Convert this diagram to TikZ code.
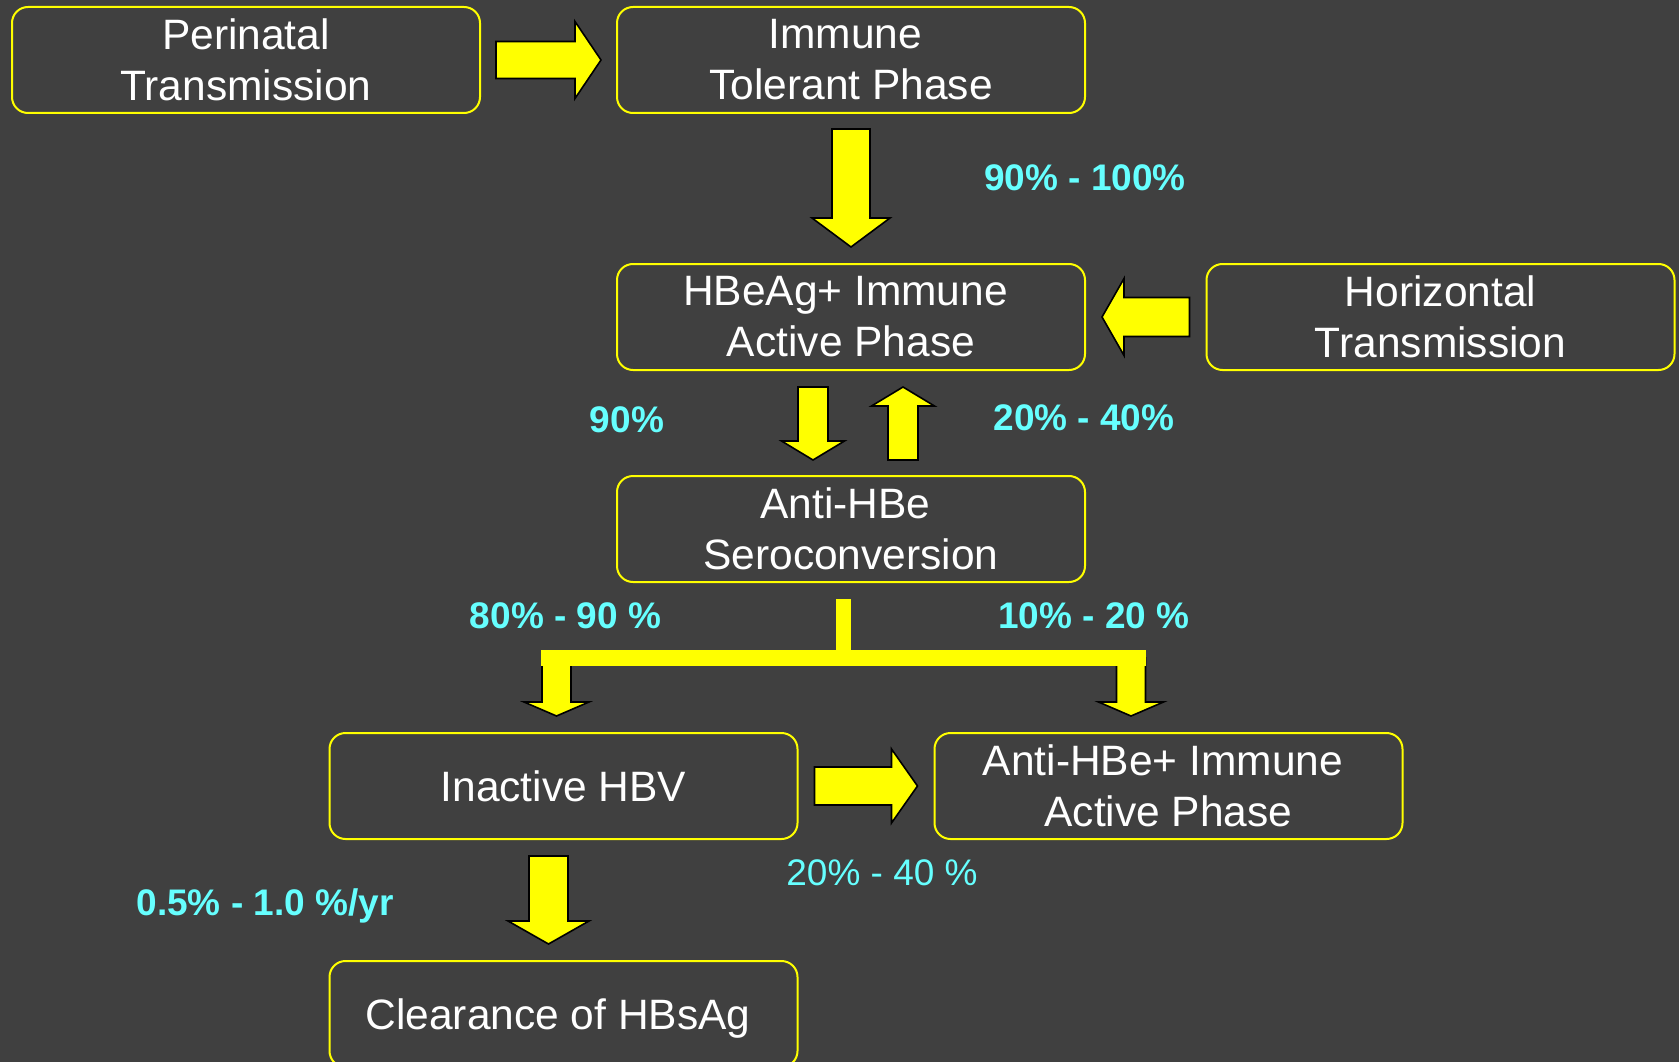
\documentclass[tikz,border=0pt]{standalone}
\usepackage{fontspec}
\setmainfont{Liberation Sans}
\usepackage{tikz}
\usetikzlibrary{calc}
\definecolor{bg}{HTML}{404040}
\definecolor{hbyellow}{HTML}{FFFF00}
\definecolor{pct}{HTML}{66FFFF}
\newcommand{\boxfont}{\fontsize{42.5}{51}\selectfont}
\newcommand{\pctfont}{\fontsize{37}{44}\selectfont\bfseries}
% block arrow: #1 tail, #2 tip, #3 half shaft, #4 half head, #5 head length
\newcommand{\fatarrow}[5]{%
  \coordinate (fa-h) at ($(#2)!#5!(#1)$);
  \draw[fat] ($(#1)!#3!90:(#2)$) -- ($(fa-h)!#3!90:(#2)$) -- ($(fa-h)!#4!90:(#2)$) -- (#2)
    -- ($(fa-h)!#4!-90:(#2)$) -- ($(fa-h)!#3!-90:(#2)$) -- ($(#1)!#3!-90:(#2)$) -- cycle;}

\begin{document}
\begin{tikzpicture}[
 x=1pt,y=-1pt,
 phase/.style={draw=hbyellow,line width=2pt,rounded corners=16pt,minimum width=468pt,minimum height=106pt,inner sep=0pt,align=center,text=white,font=\boxfont},
 fat/.style={fill=hbyellow,draw=black,line width=1.6pt,line join=miter},
 bar/.style={draw=hbyellow,line width=16pt,line cap=butt},
 rate/.style={text=pct,font=\pctfont,anchor=base,inner sep=0pt}
]
\useasboundingbox (0,0) rectangle (1679,1062);
\clip (0,0) rectangle (1679,1062);
\fill[bg] (0,0) rectangle (1679,1062);

% phases
\node[phase] (peri) at (246,60) {Perinatal\\Transmission};
\node[phase] (immune) at (851,60) {Immune\hspace*{11pt}\\Tolerant Phase};
\node[phase] (hbeag) at (851,317) {HBeAg+ Immune\hspace*{11pt}\\Active Phase};
\node[phase] (horiz) at (1440.5,317) {Horizontal\\Transmission};
\node[phase] (anti) at (851,529) {Anti-HBe\hspace*{11pt}\\Seroconversion};
\node[phase,text depth=0pt] (inactive) at (563.5,786) {Inactive HBV};
\node[phase] (antip) at (1168.5,786) {Anti-HBe+ Immune\hspace*{11pt}\\Active Phase};
\node[phase,text depth=0pt] (clear) at (563.5,1014) {Clearance of HBsAg\hspace*{11pt}};

% block arrows
\coordinate (a1t) at ($(peri.east)+(15,0)$);     \coordinate (a1h) at ($(immune.west)+(-15,0)$);
\coordinate (a2t) at ($(immune.south)+(0,15)$);  \coordinate (a2h) at ($(hbeag.north)+(0,-16)$);
\coordinate (a3t) at ($(hbeag.south)+(-38,16)$); \coordinate (a3h) at ($(anti.north)+(-38,-15)$);
\coordinate (a4t) at ($(anti.north)+(52,-15)$);  \coordinate (a4h) at ($(hbeag.south)+(52,16)$);
\coordinate (a5t) at ($(horiz.west)+(-16,0)$);   \coordinate (a5h) at ($(hbeag.east)+(16,0)$);
\coordinate (a7t) at ($(inactive.east)+(16,0)$); \coordinate (a7h) at ($(antip.west)+(-16,0)$);
\coordinate (a8t) at ($(inactive.south)+(-15,16)$); \coordinate (a8h) at ($(clear.north)+(-15,-16)$);
\fatarrow{a1t}{a1h}{18.5pt}{38.5pt}{26pt}
\fatarrow{a2t}{a2h}{19pt}{39pt}{29pt}
\fatarrow{a3t}{a3h}{15pt}{31.5pt}{19pt}
\fatarrow{a4t}{a4h}{15pt}{31.5pt}{19pt}
\fatarrow{a5t}{a5h}{19.5pt}{38.5pt}{22pt}
\fatarrow{a7t}{a7h}{19pt}{37pt}{26pt}
\fatarrow{a8t}{a8h}{19.5pt}{40.5pt}{23pt}

% split below seroconversion
\coordinate (sp-top) at ($(anti.south)+(-8,16)$);
\coordinate (sp-mid) at ($(sp-top)+(0,59)$);
\coordinate (sp-lh) at ($(inactive.north)+(-7,-16)$);
\coordinate (sp-rh) at ($(antip.north)+(-37.5,-16)$);
\coordinate (sp-lt) at (sp-lh |- sp-mid);
\coordinate (sp-rt) at (sp-rh |- sp-mid);
\fatarrow{sp-lt}{sp-lh}{14.5pt}{32.5pt}{14pt}
\fatarrow{sp-rt}{sp-rh}{14.5pt}{32.5pt}{14pt}
\draw[bar] ($(sp-lt)+(-15.3,0)$) -- ($(sp-rt)+(15.3,0)$);
\draw[bar,line width=15pt] (sp-top) -- (sp-mid);

% rates
\node[rate] (r1) at (1085,190) {90\% - 100\%};
\node[rate] (r2) at (627,432.5) {90\%};
\node[rate] (r3) at (1084,430.5) {20\% - 40\%};
\node[rate] (r4) at (565.5,628) {80\% - 90 \%};
\node[rate] (r5) at (1094,628) {10\% - 20 \%};
\node[rate] (r6) at (265,915) {0.5\% - 1.0 \%/yr};
\node[rate,font=\fontsize{37}{44}\selectfont] (r7) at (882,885) {20\% - 40 \%};
\end{tikzpicture}
\end{document}
